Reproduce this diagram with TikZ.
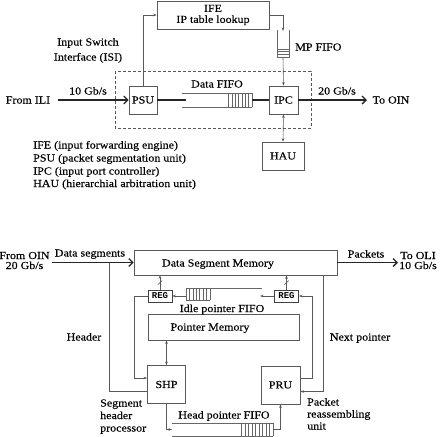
\documentclass[tikz,border=0pt]{standalone}
\usepackage{fontspec}
\setmainfont{Liberation Serif}[FakeStretch=1.12,FakeBold=0.25]
\setmonofont{Liberation Mono}
\usetikzlibrary{arrows.meta,calc}
\begin{document}
\begin{tikzpicture}[x=1pt,y=-1pt,
  font=\fontsize{10.7}{12}\selectfont,
  box/.style={draw=black!65, line width=0.65pt, inner sep=0pt, minimum width=#1},
  lbl/.style={inner sep=0pt, text height=7pt, text depth=0pt},
  thin/.style={draw=black!65, line width=0.6pt},
  arr/.style={thin, -{Stealth[length=3.5pt,width=2.6pt]}},
  darr/.style={thin, {Stealth[length=3.5pt,width=2.6pt]}-{Stealth[length=3.5pt,width=2.6pt]}},
  thk/.style={draw=black!85, line width=1.3pt},
  tharr/.style={thk, -{Straight Barb[length=4pt,width=8pt,line width=1.3pt]}},
  fifo/.style={draw=black!60, line width=0.5pt},
  reg/.style={draw=black!75, line width=0.7pt, inner sep=0pt, minimum width=24pt, minimum height=12pt, font=\fontsize{9}{10}\ttfamily\bfseries},
]
\useasboundingbox (0,0) rectangle (448,437);

% ================= upper diagram =================
\draw[thin, dashed, dash pattern=on 3pt off 2pt] (115,71) rectangle (311,128);

\node[box=112pt, minimum height=28pt, align=center] (ife) at (213,15)
  {IFE\\[-1pt]IP table lookup};
\node[box=28pt, minimum height=28pt] (psu) at (143,100) {PSU};
\node[box=29pt, minimum height=28pt] (ipc) at (283.5,100) {IPC};
\node[box=42pt, minimum height=28pt] (hau) at (283,156) {HAU};

% MP FIFO
\draw[fifo] (277,30) -- (277,57) -- (289,57) -- (289,30);
\foreach \yy in {49,51.7,54.3} \draw[fifo] (277,\yy) -- (289,\yy);
\coordinate (mptop) at (283,31);
\coordinate (mpbot) at (283,57);
\node[lbl, anchor=west] (mpl) at (295,47) {MP FIFO};

\draw[arr] (psu.north) |- (ife.west);
\draw[arr] (ife.east) -| (mptop);
\draw[arr] (mpbot) -- (ipc.north);
\draw[darr] (ipc.south) -- (hau.north);

% Data FIFO
\coordinate (dfL) at (182,100);
\coordinate (dfR) at (252,100);
\draw[fifo] (182,93) -- (252,93);
\draw[fifo] (182,107) -- (252,107);
\foreach \i in {0,...,7} \draw[fifo] ({228.5+\i*3.35},93) -- ({228.5+\i*3.35},107);
\node[lbl] (dfl) at (217,84) {Data FIFO};

\coordinate (ili) at (58,100);
\coordinate (oin) at (367,100);
\draw[tharr] (ili) -- (psu.west);
\draw[thk] (psu.east) -- ($(dfL)+(4,0)$);
\draw[thk] (dfR) -- (ipc.west);
\draw[tharr] (ipc.east) -- (oin);

\node[lbl] (fromili) at (28,100) {From ILI};
\node[lbl] (r10) at (88,91) {10 Gb/s};
\node[lbl] (r20) at (337,91) {20 Gb/s};
\node[lbl] (tooin) at (391,100) {To OIN};
\node[lbl] (isi1) at (88,42) {Input Switch};
\node[lbl] (isi2) at (88,57) {Interface (ISI)};

\node[lbl, anchor=west] (lg1) at (33,145) {IFE (input forwarding engine)};
\node[lbl, anchor=west] (lg2) at (33,158) {PSU (packet segmentation unit)};
\node[lbl, anchor=west] (lg3) at (33,171) {IPC (input port controller)};
\node[lbl, anchor=west] (lg4) at (33,183.5) {HAU (hierarchial arbitration unit)};

% ================= lower diagram =================
\node[box=203pt, minimum height=25pt] (dsm) at (235.5,262.5) {};
\node[lbl] (dsmt) at (218,263) {Data Segment Memory};
\node[box=151pt, minimum height=26pt] (pm) at (223.5,327) {};
\node[lbl] (pmt) at (210,327) {Pointer Memory};
\node[box=38pt, minimum height=38pt] (shp) at (166.5,384.5) {SHP};
\node[box=39pt, minimum height=38pt] (pru) at (280.5,385) {PRU};
\node[reg] (regl) at (160,296) {REG};
\node[reg] (regr) at (286.5,296) {REG};

% inputs / outputs
\coordinate (oinst) at (52,262.5);
\coordinate (oliend) at (398,262.5);
\draw[tharr] (oinst) -- (dsm.west);
\draw[tharr] (dsm.east) -- (oliend);
\node[lbl] (fromoin) at (24.5,255.5) {From OIN};
\node[lbl] (r20b) at (24.5,265.5) {20 Gb/s};
\node[lbl] (dseg) at (90,253) {Data segments};
\node[lbl] (pkts) at (366,254) {Packets};
\node[lbl] (tooli) at (418,255.5) {To OLI};
\node[lbl] (r10b) at (418,265.5) {10 Gb/s};

% REG to DSM
\foreach \r in {regl,regr}{
  \draw[arr] (\r.north) -- (\r.north |- dsm.south);
  \draw[thin] ($(\r.north)+(-2.2,-5)$) -- ++(4.4,-4);
}

% Idle pointer FIFO
\coordinate (ifL) at (186,296);
\coordinate (ifR) at (260,296);
\draw[fifo] (186,288) -- (262,288);
\draw[fifo] (186,300) -- (210,300);
\foreach \i in {0,...,7} \draw[fifo] ({186+\i*3.4},288) -- ({186+\i*3.4},300);
\node[lbl] (ifl) at (222,308.5) {Idle pointer FIFO};
\draw[arr] (regr.west) -- (ifR);
\draw[arr] (ifL) -- (regl.east);

% header and SHP
\coordinate (hdr) at (109,262.5);
\coordinate (shpin) at ($(shp.west)+(0,-6.5)$);
\coordinate (shphd) at ($(shp.west)+(0,7)$);
\draw[thin] (hdr) |- (shphd);
\draw[arr] (regl.west) -- ++(-13,0) |- (shpin);
\draw[darr] (shp.north |- pm.south) -- (shp.north);
\node[lbl] (hdrl) at (84,337) {Header};

% PRU connections
\coordinate (pruout) at ($(pru.east)+(0,-7)$);
\coordinate (pruin) at ($(pru.east)+(0,6.5)$);
\coordinate (dsmnp) at (323,275);
\draw[arr] (pruout) -- ++(11.5,0) |- (regr.east);
\draw[arr] (dsmnp) |- (pruin);
\node[lbl] (npl) at (360,337) {Next pointer};

% Head pointer FIFO
\coordinate (hfL) at (172,429.5);
\coordinate (hfR) at (273,429.5);
\draw[fifo] (172,423) -- (273,423);
\draw[fifo] (172,436) -- (273,436);
\foreach \i in {0,...,9} \draw[fifo] ({241.5+\i*3.5},423) -- ({241.5+\i*3.5},436);
\draw[arr] (shp.south) |- (hfL);
\draw[arr] (hfR) -| (pru.south);
\node[lbl] (hfl) at (224,415) {Head pointer FIFO};

% captions
\node[lbl, anchor=west] (sc1) at (100,403) {Segment};
\node[lbl, anchor=west] (sc2) at (100,415.5) {header};
\node[lbl, anchor=west] (sc3) at (100,428) {processor};
\node[lbl, anchor=west] (pc1) at (307,402) {Packet};
\node[lbl, anchor=west] (pc2) at (307,414) {reassembling};
\node[lbl, anchor=west] (pc3) at (307,426) {unit};
\end{tikzpicture}
\end{document}
